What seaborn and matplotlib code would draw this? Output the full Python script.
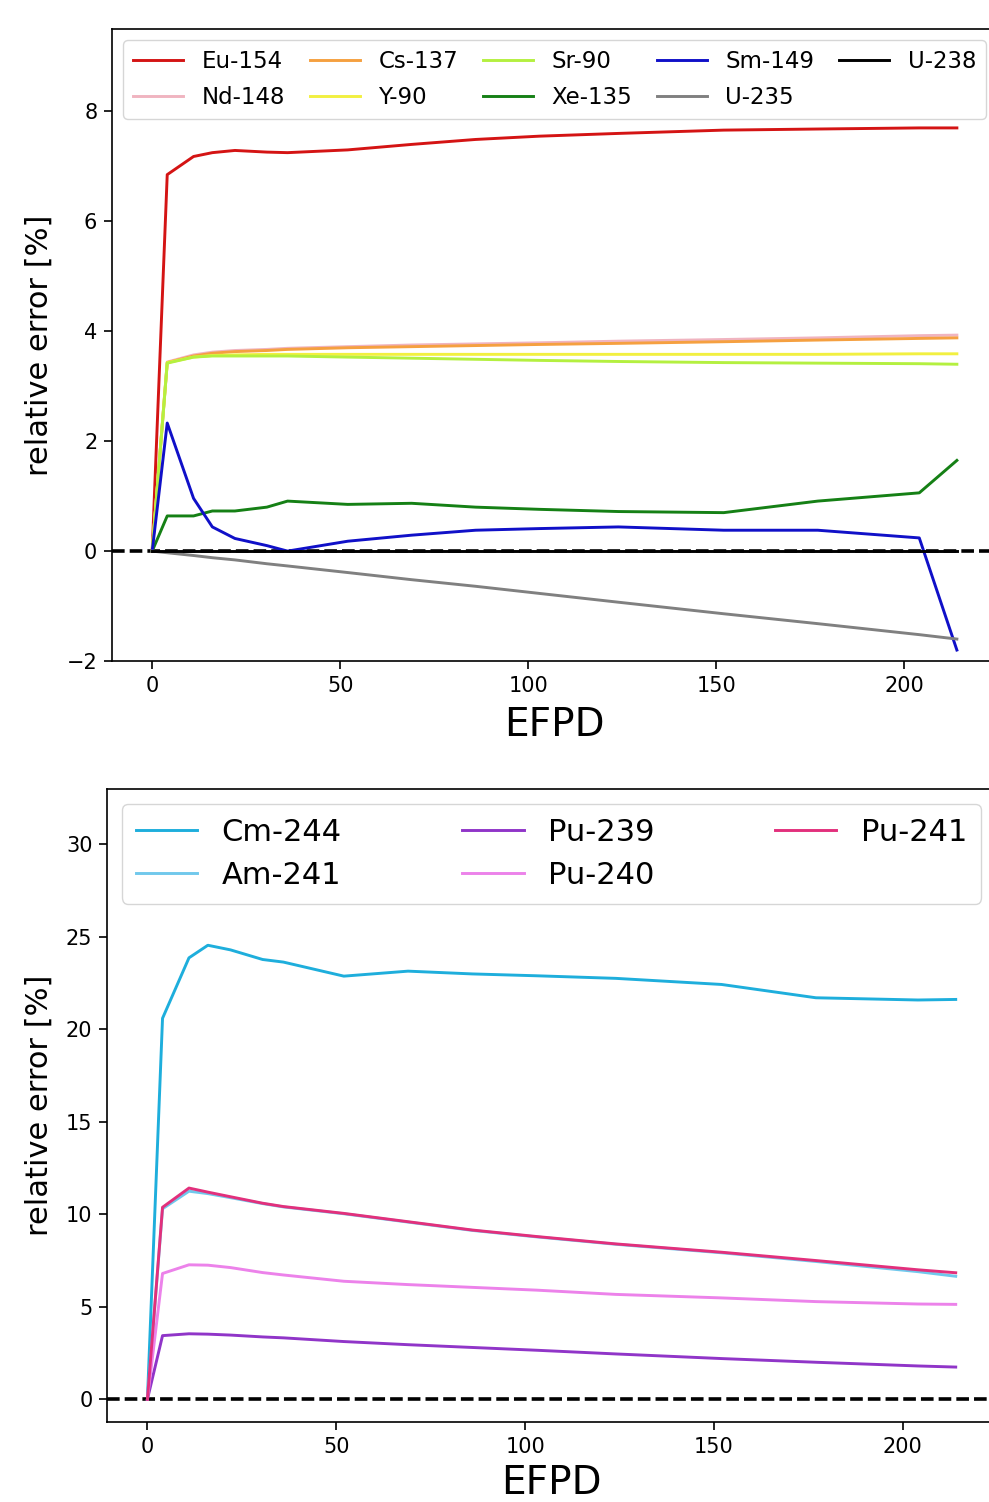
import numpy as np
import pandas as pd
import matplotlib
matplotlib.use("Agg")
import matplotlib.pyplot as plt
from matplotlib.lines import Line2D
import seaborn as sns

# Burnup steps (effective full power days)
efpd = [0, 4, 11, 16, 22, 30.5, 36, 52, 69, 86, 103, 124, 152, 177, 204, 214]

# Fission products and uranium: relative error [%]
eu154 = [0, 6.85, 7.18, 7.25, 7.29, 7.26, 7.25, 7.30, 7.40, 7.49, 7.55, 7.60, 7.66, 7.68, 7.70, 7.70]
nd148 = [0, 3.44, 3.57, 3.62, 3.65, 3.67, 3.69, 3.72, 3.75, 3.77, 3.79, 3.82, 3.85, 3.88, 3.92, 3.93]
cs137 = [0, 3.43, 3.55, 3.60, 3.63, 3.65, 3.67, 3.70, 3.72, 3.74, 3.76, 3.78, 3.81, 3.84, 3.87, 3.88]
y90 = [0, 3.43, 3.53, 3.56, 3.57, 3.58, 3.58, 3.58, 3.58, 3.58, 3.58, 3.58, 3.58, 3.58, 3.59, 3.59]
sr90 = [0, 3.42, 3.53, 3.55, 3.55, 3.55, 3.55, 3.53, 3.51, 3.49, 3.47, 3.45, 3.43, 3.42, 3.41, 3.40]
xe135 = [0, 0.64, 0.64, 0.73, 0.73, 0.80, 0.91, 0.85, 0.87, 0.80, 0.76, 0.72, 0.70, 0.91, 1.06, 1.65]
sm149 = [0, 2.33, 0.96, 0.44, 0.23, 0.10, 0.0, 0.18, 0.29, 0.38, 0.41, 0.44, 0.38, 0.38, 0.24, -1.80]
u235 = [0, -0.03, -0.08, -0.12, -0.16, -0.23, -0.27, -0.39, -0.52, -0.64, -0.77, -0.93, -1.14, -1.32, -1.52, -1.60]
u238 = [0, 0, 0, 0, 0, 0, 0, 0, 0, 0, 0, 0, 0, 0, 0, 0]

# Actinides: relative error [%]
cm244 = [0, 20.6, 23.87, 24.55, 24.3, 23.78, 23.64, 22.88, 23.15, 23.0, 22.9, 22.76, 22.43, 21.71, 21.59, 21.62]
am241 = [0, 10.30, 11.25, 11.12, 10.90, 10.58, 10.40, 10.03, 9.58, 9.13, 8.78, 8.38, 7.92, 7.45, 6.90, 6.65]
pu239 = [0, 3.44, 3.54, 3.52, 3.47, 3.37, 3.32, 3.12, 2.95, 2.80, 2.65, 2.45, 2.20, 2.00, 1.80, 1.74]
pu240 = [0, 6.80, 7.27, 7.25, 7.12, 6.85, 6.72, 6.38, 6.20, 6.05, 5.90, 5.67, 5.48, 5.28, 5.15, 5.13]
pu241 = [0, 10.38, 11.42, 11.20, 10.95, 10.60, 10.42, 10.05, 9.60, 9.15, 8.80, 8.40, 7.95, 7.50, 7.00, 6.84]

top_series = {
    "Eu-154": eu154, "Nd-148": nd148, "Cs-137": cs137, "Y-90": y90, "Sr-90": sr90,
    "Xe-135": xe135, "Sm-149": sm149, "U-235": u235, "U-238": u238,
}
top_colors = {
    "Eu-154": "#d41414", "Nd-148": "#f0b4c0", "Cs-137": "#f5a040", "Y-90": "#f2f040",
    "Sr-90": "#b4f040", "Xe-135": "#158015", "Sm-149": "#1010c8", "U-235": "#808080",
    "U-238": "#000000",
}
bot_series = {
    "Cm-244": cm244, "Am-241": am241, "Pu-239": pu239, "Pu-240": pu240, "Pu-241": pu241,
}
bot_colors = {
    "Cm-244": "#1eaedc", "Am-241": "#70c8ec", "Pu-239": "#9035c8", "Pu-240": "#ec82ea",
    "Pu-241": "#e2307c",
}


def long_form(series):
    rows = []
    for name, vals in series.items():
        for x, v in zip(efpd, vals):
            rows.append({"EFPD": x, "err": v, "nuclide": name})
    return pd.DataFrame(rows)


LW = 2.1
fig = plt.figure(figsize=(9.89, 15.02), dpi=100)
ax1 = fig.add_axes([0.1132, 0.5599, 0.895, 0.4208])
ax2 = fig.add_axes([0.1082, 0.0533, 0.899, 0.4214])

panels = [
    (ax1, top_series, top_colors, 5, 16.5, 2.2, 0.56, 0.42, (-2, 9.5), [-2, 0, 2, 4, 6, 8], -0.066, -0.071),
    (ax2, bot_series, bot_colors, 3, 22, 2.0, 0.45, 0.45, (None, 33), [0, 5, 10, 15, 20, 25, 30], -0.060, -0.066),
]

for ax, series, colors, ncol, lfs, hlen, lsp, bpad, ylim, yticks, ylab_x, xlab_y in panels:
    df = long_form(series)
    order = list(series.keys())
    sns.lineplot(data=df, x="EFPD", y="err", hue="nuclide", hue_order=order,
                 palette=colors, linewidth=LW, legend=False, ax=ax)
    ax.axhline(0, color="black", linestyle=(0, (3.5, 1.4)), linewidth=2.6, zorder=1)
    if ylim[0] is not None:
        ax.set_ylim(*ylim)
    else:
        ax.set_ylim(top=ylim[1])
    ax.set_yticks(yticks)
    ax.set_xticks([0, 50, 100, 150, 200])
    ax.tick_params(labelsize=15, length=5.5, width=1.2, pad=5)
    for sp in ax.spines.values():
        sp.set_linewidth(1.2)
    ax.set_xlabel("EFPD", fontsize=28)
    ax.set_ylabel("relative error [%]", fontsize=22)
    ax.yaxis.set_label_coords(ylab_x, 0.5)
    ax.xaxis.set_label_coords(0.5, xlab_y)
    handles = [Line2D([], [], color=colors[k], lw=LW) for k in order]
    ax.legend(handles, order, loc="upper left", ncol=ncol, mode="expand",
              fontsize=lfs, handlelength=hlen, handletextpad=0.8,
              labelspacing=lsp, borderpad=bpad)

fig.savefig("out.png", dpi=100)
